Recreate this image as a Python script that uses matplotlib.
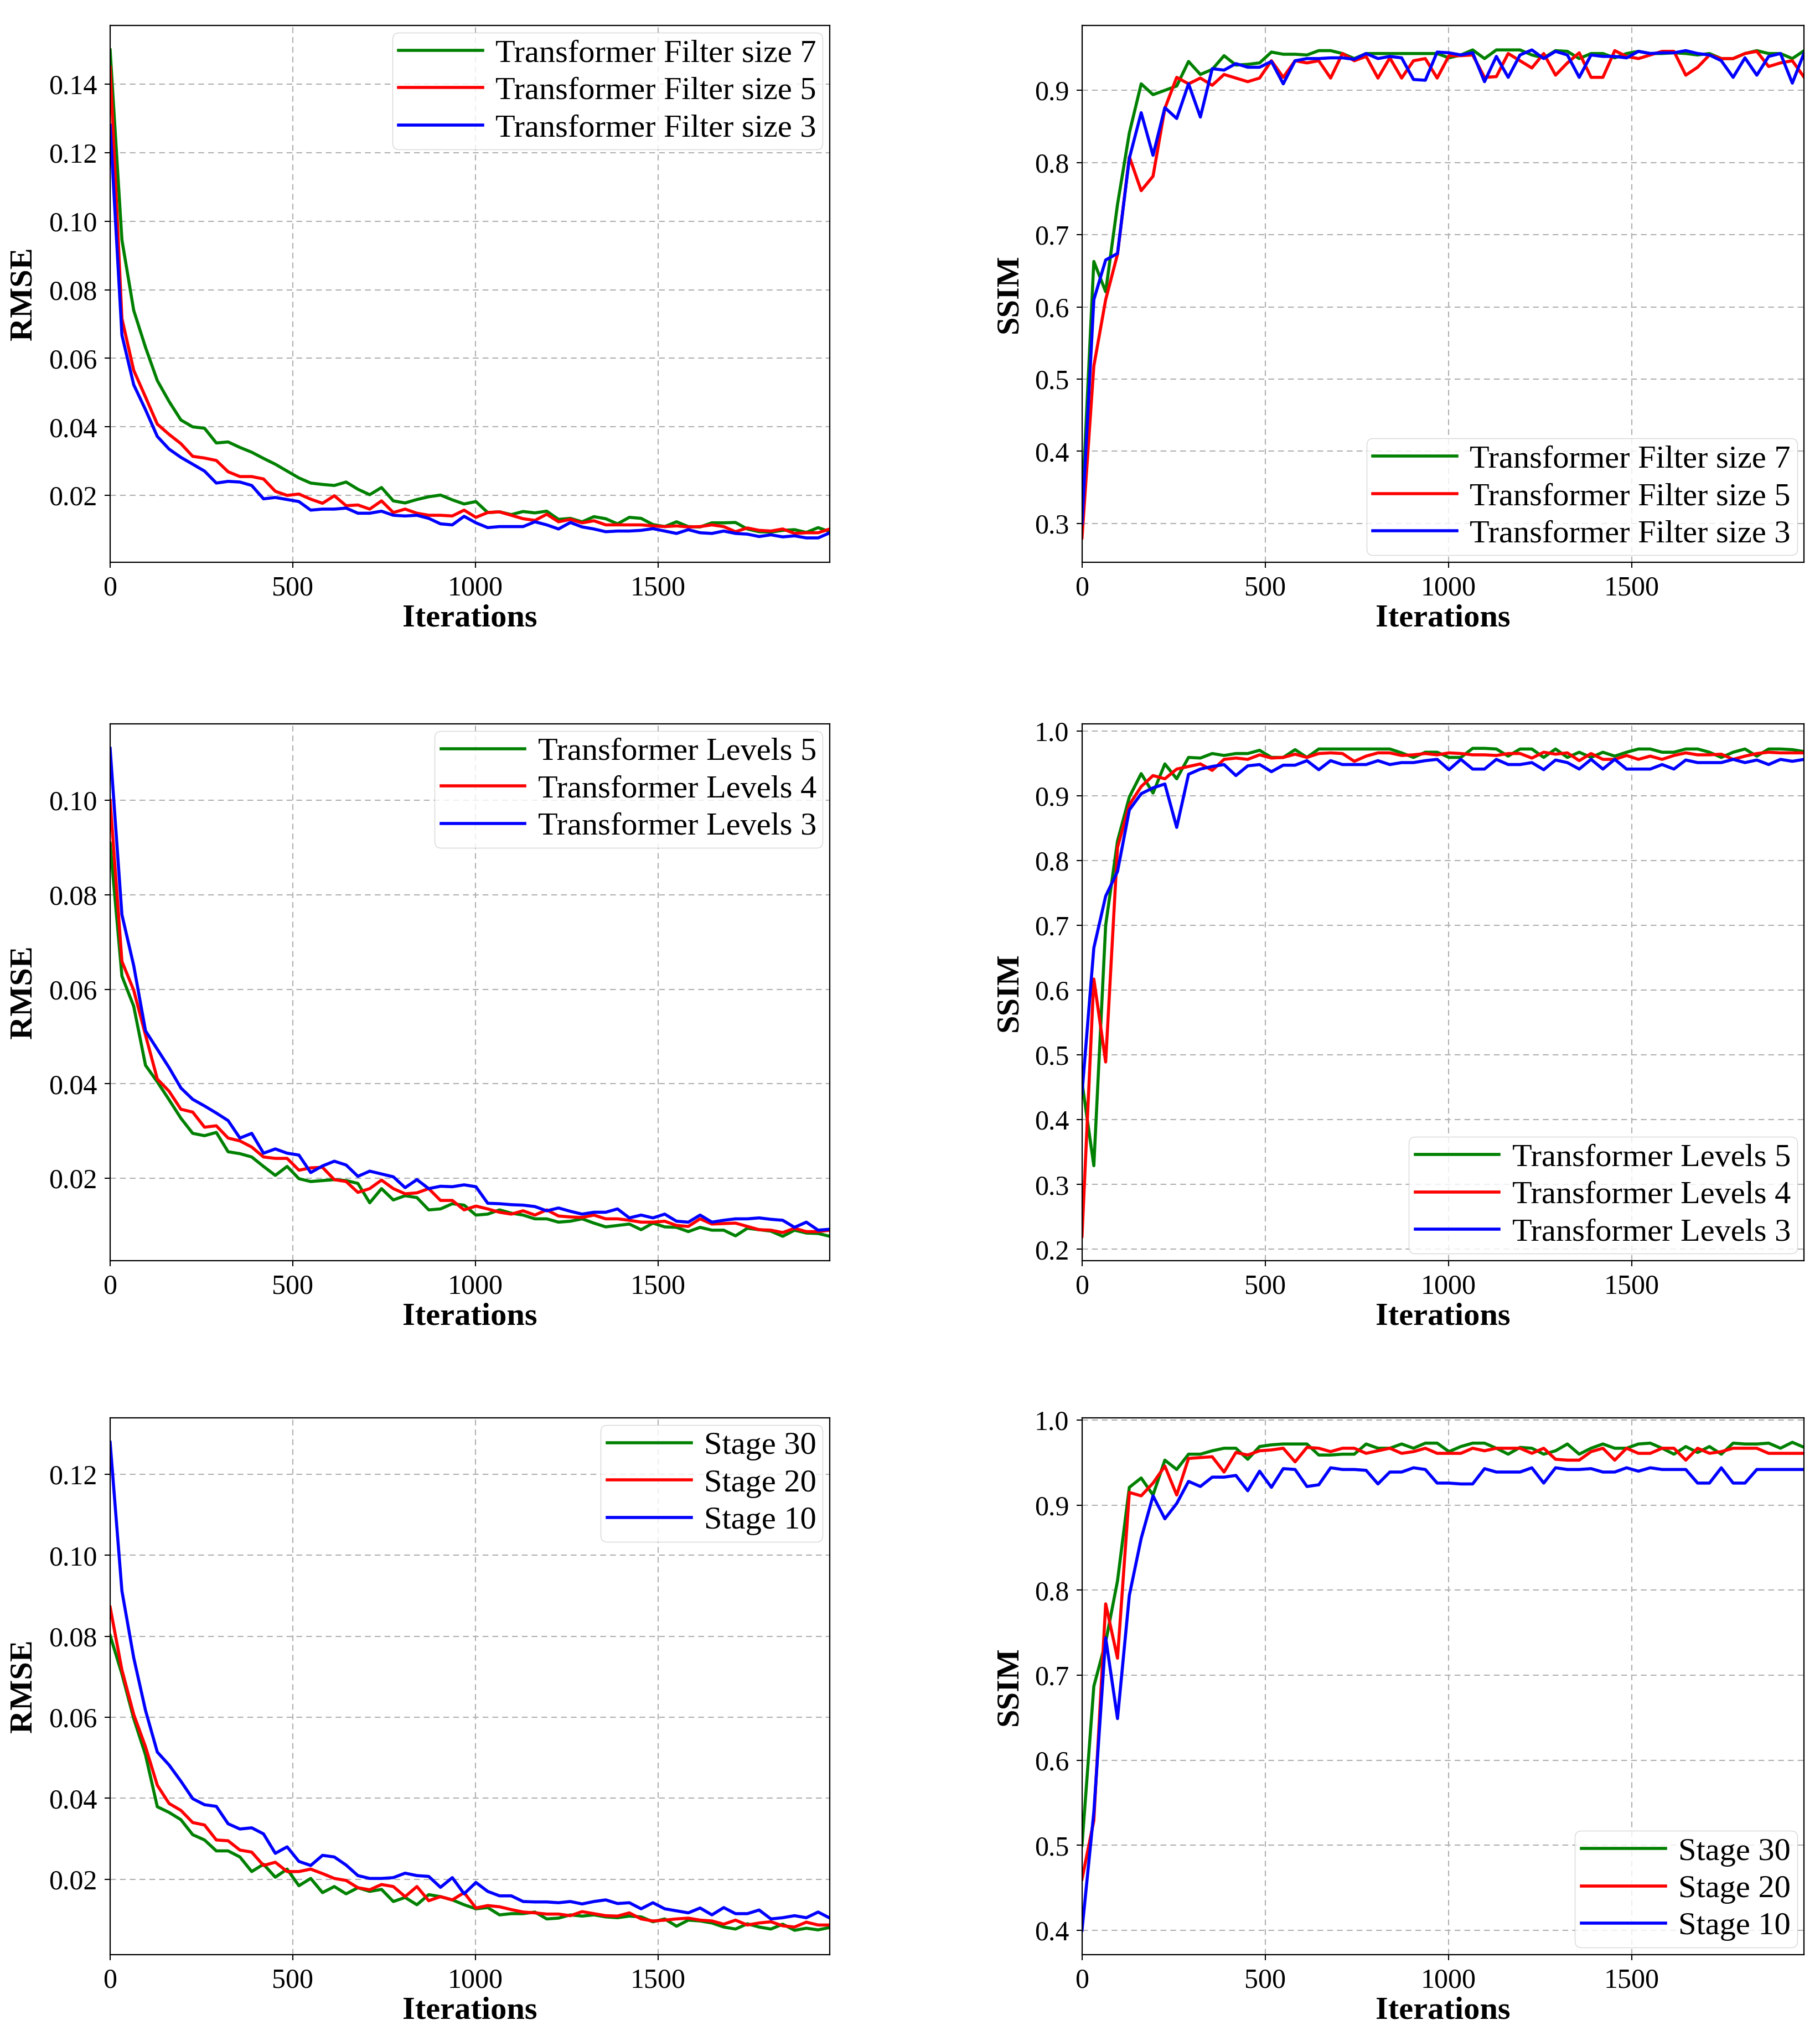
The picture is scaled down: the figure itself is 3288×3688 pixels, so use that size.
"""
Training curves: RMSE / SSIM against iterations for three ablations
"""

import matplotlib
matplotlib.use('Agg')
import matplotlib.pyplot as plt
import numpy as np

plt.rcParams['font.family'] = ['Liberation Serif', 'DejaVu Serif']

# sampling step of the logged iterations
ITER_STEP = 32.3

# ---- filter size ----
rmse_filter7 = [0.150, 0.0946, 0.074, 0.0632, 0.0535, 0.0474, 0.042, 0.040, 0.0396, 0.0353,
                0.0356, 0.034, 0.0326, 0.0308, 0.0291, 0.0271, 0.0251, 0.0236, 0.0232, 0.0229,
                0.0239, 0.0218, 0.0202, 0.0223, 0.0184, 0.0178, 0.0188, 0.0196, 0.0201, 0.0187,
                0.0175, 0.0182, 0.015, 0.0152, 0.0144, 0.0153, 0.0149, 0.0154, 0.013, 0.0133,
                0.0123, 0.0138, 0.0132, 0.0117, 0.0136, 0.0133, 0.0115, 0.0109, 0.0123, 0.0109,
                0.0108, 0.012, 0.012, 0.0121, 0.0102, 0.0094, 0.0093, 0.0098, 0.0100, 0.0092,
                0.0106, 0.0094]
rmse_filter5 = [0.145, 0.0716, 0.0565, 0.0487, 0.0408, 0.0378, 0.0351, 0.0314, 0.0309, 0.0302,
                0.0269, 0.0255, 0.0255, 0.0248, 0.0212, 0.020, 0.0204, 0.0189, 0.0177, 0.0199,
                0.017, 0.0172, 0.016, 0.0184, 0.015, 0.016, 0.0148, 0.0142, 0.0142, 0.014,
                0.0157, 0.0136, 0.015, 0.0152, 0.0142, 0.0132, 0.0127, 0.0145, 0.0123, 0.013,
                0.012, 0.0126, 0.0114, 0.0114, 0.0114, 0.0114, 0.0111, 0.0109, 0.0111, 0.0108,
                0.0109, 0.0114, 0.0109, 0.0094, 0.0105, 0.0098, 0.0096, 0.0102, 0.0089, 0.0091,
                0.0091, 0.0102]
rmse_filter3 = [0.128, 0.0668, 0.0523, 0.045, 0.0372, 0.0335, 0.0311, 0.0291, 0.0271, 0.0236,
                0.0241, 0.0239, 0.0229, 0.019, 0.0194, 0.0188, 0.0182, 0.0157, 0.016, 0.016,
                0.0163, 0.0148, 0.0148, 0.0154, 0.0142, 0.014, 0.0142, 0.0133, 0.0117, 0.0114,
                0.0139, 0.012, 0.0106, 0.0109, 0.0109, 0.0109, 0.0123, 0.0114, 0.0102, 0.0121,
                0.0108, 0.0102, 0.0094, 0.0096, 0.0096, 0.0098, 0.0103, 0.0096, 0.0089, 0.010,
                0.0091, 0.0089, 0.0096, 0.0089, 0.0087, 0.008, 0.0085, 0.0079, 0.0082, 0.0076,
                0.0076, 0.0091]
ssim_filter7 = [0.32, 0.663, 0.621, 0.742, 0.841, 0.909, 0.894, 0.900, 0.906, 0.940,
                0.922, 0.929, 0.948, 0.935, 0.936, 0.938, 0.953, 0.950, 0.950, 0.949,
                0.955, 0.955, 0.951, 0.944, 0.951, 0.951, 0.951, 0.951, 0.951, 0.951,
                0.951, 0.945, 0.949, 0.956, 0.944, 0.956, 0.956, 0.956, 0.949, 0.945,
                0.955, 0.954, 0.944, 0.951, 0.951, 0.945, 0.951, 0.954, 0.951, 0.951,
                0.952, 0.951, 0.949, 0.951, 0.944, 0.944, 0.951, 0.955, 0.951, 0.951,
                0.944, 0.955]
ssim_filter5 = [0.28, 0.518, 0.610, 0.673, 0.808, 0.761, 0.781, 0.875, 0.918, 0.909,
                0.917, 0.907, 0.922, 0.917, 0.912, 0.917, 0.941, 0.918, 0.941, 0.938,
                0.941, 0.917, 0.951, 0.941, 0.947, 0.917, 0.945, 0.917, 0.941, 0.944,
                0.917, 0.948, 0.948, 0.949, 0.918, 0.919, 0.951, 0.941, 0.931, 0.951,
                0.921, 0.938, 0.952, 0.918, 0.918, 0.955, 0.947, 0.944, 0.949, 0.954,
                0.954, 0.921, 0.932, 0.949, 0.944, 0.944, 0.951, 0.954, 0.933, 0.938,
                0.941, 0.918]
ssim_filter3 = [0.30, 0.610, 0.665, 0.674, 0.806, 0.869, 0.810, 0.876, 0.861, 0.909,
                0.863, 0.930, 0.928, 0.937, 0.932, 0.932, 0.940, 0.909, 0.941, 0.944,
                0.944, 0.945, 0.945, 0.943, 0.951, 0.944, 0.947, 0.945, 0.915, 0.914,
                0.953, 0.952, 0.949, 0.952, 0.912, 0.947, 0.918, 0.949, 0.956, 0.944,
                0.954, 0.949, 0.918, 0.949, 0.947, 0.947, 0.945, 0.954, 0.951, 0.952,
                0.952, 0.955, 0.951, 0.949, 0.941, 0.918, 0.945, 0.921, 0.947, 0.951,
                0.910, 0.952]

# ---- transformer levels ----
rmse_levels5 = [0.0909, 0.0628, 0.0564, 0.0439, 0.0404, 0.0366, 0.0327, 0.0295, 0.029, 0.0297,
                0.0256, 0.0252, 0.0245, 0.0225, 0.0206, 0.0225, 0.0199, 0.0193, 0.0195, 0.0197,
                0.0195, 0.0189, 0.0148, 0.0178, 0.0154, 0.0163, 0.0159, 0.0133, 0.0135, 0.0146,
                0.0143, 0.0122, 0.0124, 0.0133, 0.0126, 0.0122, 0.0114, 0.0114, 0.0107, 0.0109,
                0.0114, 0.0105, 0.0097, 0.010, 0.0103, 0.0091, 0.0105, 0.0097, 0.0096, 0.0087,
                0.0096, 0.009, 0.009, 0.0078, 0.0094, 0.0091, 0.0088, 0.0077, 0.009, 0.0084,
                0.0083, 0.0077]
rmse_levels4 = [0.100, 0.0659, 0.0598, 0.0503, 0.041, 0.0384, 0.0346, 0.034, 0.0308, 0.0311,
                0.0285, 0.0279, 0.0266, 0.0245, 0.0242, 0.0242, 0.0217, 0.0222, 0.0223, 0.0197,
                0.0193, 0.017, 0.0178, 0.0196, 0.0178, 0.0167, 0.0169, 0.0178, 0.0153, 0.0153,
                0.0133, 0.0141, 0.0135, 0.0128, 0.0124, 0.0131, 0.0122, 0.0133, 0.012, 0.0118,
                0.0117, 0.0122, 0.0114, 0.0114, 0.0111, 0.0107, 0.0107, 0.0109, 0.010, 0.0098,
                0.0114, 0.0103, 0.0104, 0.0105, 0.0098, 0.0091, 0.009, 0.0085, 0.0094, 0.0087,
                0.0087, 0.009]
rmse_levels3 = [0.111, 0.0758, 0.065, 0.0512, 0.0473, 0.0434, 0.0391, 0.0367, 0.0353, 0.0338,
                0.0322, 0.0285, 0.0295, 0.0253, 0.0262, 0.0253, 0.0249, 0.0212, 0.0226, 0.0236,
                0.0228, 0.0204, 0.0215, 0.0209, 0.0203, 0.018, 0.0197, 0.0178, 0.0183, 0.0182,
                0.0186, 0.0182, 0.0147, 0.0146, 0.0144, 0.0143, 0.014, 0.0131, 0.0137, 0.013,
                0.0124, 0.0128, 0.0128, 0.0135, 0.0116, 0.0122, 0.0116, 0.0124, 0.0109, 0.0107,
                0.0122, 0.0107, 0.0111, 0.0114, 0.0114, 0.0116, 0.0113, 0.0111, 0.0096, 0.0107,
                0.009, 0.0092]
ssim_levels5 = [0.458, 0.329, 0.700, 0.830, 0.898, 0.934, 0.904, 0.949, 0.926, 0.959,
                0.958, 0.965, 0.962, 0.965, 0.965, 0.970, 0.959, 0.959, 0.971, 0.959,
                0.972, 0.972, 0.972, 0.972, 0.972, 0.972, 0.972, 0.966, 0.959, 0.967,
                0.967, 0.959, 0.959, 0.973, 0.973, 0.972, 0.961, 0.972, 0.972, 0.959,
                0.972, 0.959, 0.967, 0.959, 0.967, 0.961, 0.967, 0.972, 0.972, 0.967,
                0.967, 0.972, 0.972, 0.967, 0.959, 0.967, 0.972, 0.961, 0.972, 0.972,
                0.971, 0.968]
ssim_levels4 = [0.220, 0.617, 0.489, 0.820, 0.886, 0.914, 0.931, 0.926, 0.941, 0.945,
                0.949, 0.939, 0.956, 0.958, 0.956, 0.963, 0.958, 0.959, 0.964, 0.959,
                0.965, 0.966, 0.965, 0.953, 0.961, 0.966, 0.966, 0.962, 0.963, 0.965,
                0.963, 0.966, 0.965, 0.963, 0.963, 0.962, 0.965, 0.965, 0.958, 0.967,
                0.964, 0.966, 0.954, 0.965, 0.956, 0.956, 0.962, 0.956, 0.961, 0.956,
                0.962, 0.966, 0.963, 0.963, 0.964, 0.956, 0.961, 0.965, 0.967, 0.966,
                0.966, 0.966]
ssim_levels3 = [0.440, 0.665, 0.745, 0.783, 0.878, 0.903, 0.912, 0.918, 0.851, 0.933,
                0.941, 0.945, 0.948, 0.931, 0.946, 0.948, 0.937, 0.947, 0.947, 0.954,
                0.940, 0.954, 0.948, 0.948, 0.948, 0.954, 0.948, 0.951, 0.951, 0.954,
                0.956, 0.940, 0.956, 0.941, 0.941, 0.956, 0.948, 0.948, 0.951, 0.940,
                0.955, 0.951, 0.941, 0.956, 0.941, 0.956, 0.941, 0.941, 0.941, 0.948,
                0.941, 0.955, 0.951, 0.951, 0.951, 0.956, 0.951, 0.955, 0.948, 0.956,
                0.953, 0.956]

# ---- number of stages ----
rmse_stage30 = [0.0802, 0.0707, 0.0597, 0.0507, 0.0379, 0.0365, 0.0347, 0.031, 0.0297, 0.027,
                0.027, 0.0255, 0.0219, 0.0237, 0.0205, 0.0225, 0.0184, 0.0202, 0.0167, 0.0182,
                0.0164, 0.0179, 0.017, 0.0175, 0.0145, 0.0155, 0.0137, 0.0162, 0.0157, 0.0149,
                0.0137, 0.0127, 0.013, 0.0112, 0.0115, 0.0115, 0.0119, 0.0102, 0.0104, 0.0112,
                0.0109, 0.0112, 0.0107, 0.0105, 0.0109, 0.0107, 0.0095, 0.0102, 0.0084, 0.0099,
                0.0097, 0.0092, 0.0082, 0.0077, 0.009, 0.0082, 0.0077, 0.0089, 0.0074, 0.0079,
                0.0075, 0.0081]
rmse_stage20 = [0.0872, 0.0717, 0.0607, 0.0527, 0.0432, 0.0387, 0.037, 0.034, 0.0334, 0.0297,
                0.0295, 0.0272, 0.0267, 0.0234, 0.0242, 0.0219, 0.0219, 0.0225, 0.0214, 0.0202,
                0.0197, 0.0179, 0.0174, 0.0187, 0.0182, 0.0157, 0.0182, 0.0147, 0.0157, 0.0149,
                0.0167, 0.0129, 0.0135, 0.0132, 0.0125, 0.0119, 0.0117, 0.0114, 0.0114, 0.011,
                0.012, 0.0115, 0.011, 0.0109, 0.0117, 0.0102, 0.0097, 0.0099, 0.0102, 0.0104,
                0.0099, 0.0097, 0.0089, 0.0099, 0.0087, 0.0092, 0.0095, 0.0085, 0.0082, 0.0094,
                0.0087, 0.0087]
rmse_stage10 = [0.1279, 0.0912, 0.0747, 0.0617, 0.0514, 0.0482, 0.0442, 0.0399, 0.0384, 0.038,
                0.0337, 0.0324, 0.0327, 0.0312, 0.0264, 0.028, 0.0244, 0.0234, 0.0259, 0.0255,
                0.0235, 0.0209, 0.0202, 0.0202, 0.0204, 0.0215, 0.0209, 0.0207, 0.018, 0.0204,
                0.0164, 0.0192, 0.017, 0.0159, 0.0159, 0.0145, 0.0144, 0.0144, 0.0142, 0.0145,
                0.0139, 0.0145, 0.0149, 0.014, 0.0142, 0.0127, 0.0142, 0.0127, 0.0122, 0.0117,
                0.0129, 0.0112, 0.013, 0.0115, 0.0115, 0.0124, 0.0102, 0.0105, 0.011, 0.0105,
                0.0119, 0.0104]
ssim_stage30 = [0.500, 0.687, 0.739, 0.811, 0.921, 0.932, 0.912, 0.953, 0.942, 0.960,
                0.960, 0.964, 0.967, 0.967, 0.954, 0.969, 0.971, 0.972, 0.972, 0.972,
                0.959, 0.959, 0.960, 0.960, 0.972, 0.967, 0.967, 0.972, 0.967, 0.973,
                0.973, 0.963, 0.969, 0.973, 0.973, 0.967, 0.960, 0.968, 0.967, 0.960,
                0.964, 0.972, 0.960, 0.967, 0.972, 0.967, 0.967, 0.972, 0.973, 0.967,
                0.960, 0.969, 0.962, 0.969, 0.960, 0.973, 0.972, 0.972, 0.973, 0.967,
                0.974, 0.968]
ssim_stage20 = [0.460, 0.529, 0.784, 0.720, 0.915, 0.911, 0.926, 0.946, 0.912, 0.955,
                0.956, 0.957, 0.939, 0.962, 0.959, 0.964, 0.965, 0.967, 0.951, 0.968,
                0.967, 0.963, 0.967, 0.967, 0.961, 0.964, 0.967, 0.961, 0.963, 0.967,
                0.961, 0.961, 0.961, 0.967, 0.964, 0.967, 0.967, 0.967, 0.961, 0.967,
                0.954, 0.953, 0.953, 0.963, 0.967, 0.953, 0.967, 0.961, 0.961, 0.967,
                0.967, 0.953, 0.967, 0.961, 0.963, 0.967, 0.967, 0.967, 0.961, 0.961,
                0.961, 0.961]
ssim_stage10 = [0.400, 0.539, 0.744, 0.649, 0.794, 0.861, 0.911, 0.884, 0.902, 0.928,
                0.922, 0.933, 0.933, 0.935, 0.917, 0.940, 0.921, 0.943, 0.942, 0.922,
                0.924, 0.944, 0.942, 0.942, 0.941, 0.925, 0.939, 0.939, 0.944, 0.942,
                0.926, 0.926, 0.925, 0.925, 0.943, 0.939, 0.939, 0.939, 0.944, 0.926,
                0.944, 0.942, 0.942, 0.943, 0.939, 0.939, 0.944, 0.940, 0.944, 0.942,
                0.942, 0.942, 0.926, 0.926, 0.944, 0.926, 0.926, 0.942, 0.942, 0.942,
                0.942, 0.942]

filter_labels = ['Transformer Filter size 7', 'Transformer Filter size 5',
                 'Transformer Filter size 3']
level_labels = ['Transformer Levels 5', 'Transformer Levels 4', 'Transformer Levels 3']
stage_labels = ['Stage 30', 'Stage 20', 'Stage 10']

COLORS = ['green', 'red', 'blue']


def draw_panel(ax, series, labels, ylabel, legend_loc):
  for values, label, color in zip(series, labels, COLORS):
    iters = np.arange(len(values)) * ITER_STEP
    ax.plot(iters, values, color=color, linewidth=4.0, label=label)
  ax.set_xlim(0, (len(series[0]) - 1) * ITER_STEP)
  ax.set_xticks([0, 500, 1000, 1500])
  ax.grid(True, linestyle='--', color='#b0b0b0', linewidth=1.5, dashes=(5, 3.5))
  ax.set_axisbelow(True)
  for spine in ax.spines.values():
    spine.set_linewidth(1.6)
  ax.tick_params(labelsize=36, width=1.5, length=7, pad=10)
  ax.set_xlabel('Iterations', fontsize=42, fontweight='bold', labelpad=4)
  ax.set_ylabel(ylabel, fontsize=42, fontweight='bold', labelpad=14)
  ax.legend(loc=legend_loc, fontsize=42, handlelength=2.6, borderaxespad=0.22,
            labelspacing=0.25, handletextpad=0.4, borderpad=0.2)


fig = plt.figure(figsize=(32.88, 36.88), dpi=100)

col_left = [0.0605, 0.5945]
col_width = [0.3955, 0.3968]
row_bottom = [0.7245, 0.3823, 0.0423]
height = 0.2630

panels = [
    ([rmse_filter7, rmse_filter5, rmse_filter3], filter_labels,
     [ssim_filter7, ssim_filter5, ssim_filter3]),
    ([rmse_levels5, rmse_levels4, rmse_levels3], level_labels,
     [ssim_levels5, ssim_levels4, ssim_levels3]),
    ([rmse_stage30, rmse_stage20, rmse_stage10], stage_labels,
     [ssim_stage30, ssim_stage20, ssim_stage10]),
]

for row, (rmse, labels, ssim) in enumerate(panels):
  ax_l = fig.add_axes([col_left[0], row_bottom[row], col_width[0], height])
  draw_panel(ax_l, rmse, labels, 'RMSE', 'upper right')
  ax_r = fig.add_axes([col_left[1], row_bottom[row], col_width[1], height])
  draw_panel(ax_r, ssim, labels, 'SSIM', 'lower right')

fig.savefig('out.png', dpi=100)
